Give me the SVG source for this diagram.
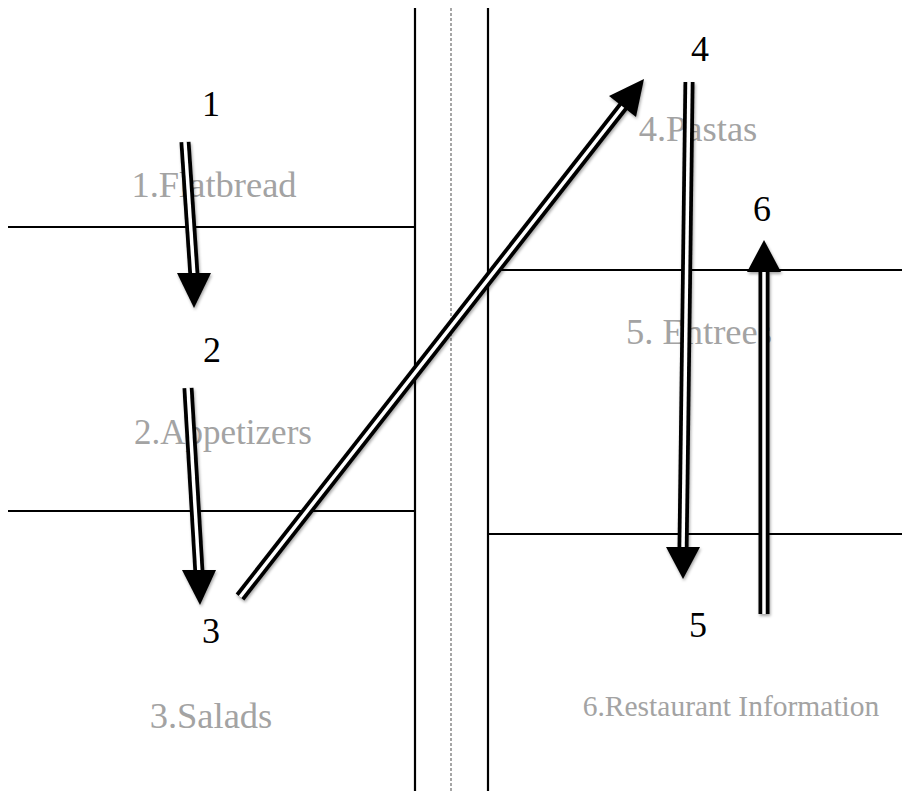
<svg xmlns="http://www.w3.org/2000/svg" width="902" height="791" viewBox="0 0 902 791">
  <defs>
    <style>
      .rule { stroke: #000; stroke-width: 2.2; fill: none; }
      .dash { stroke: #777; stroke-width: 1.3; stroke-dasharray: 3 2; fill: none; }
      .num { font-family: "Liberation Serif", "Times New Roman", serif; font-size: 36px; fill: #000; text-anchor: middle; }
      .lbl { font-family: "Liberation Serif", "Times New Roman", serif; font-size: 36.5px; fill: #a3a3a3; }
      .outer { stroke: #000; stroke-width: 11; fill: none; stroke-linecap: butt; }
      .inner { stroke: #fff; stroke-width: 3.5; fill: none; stroke-linecap: butt; }
      .head { fill: #000; }
    </style>
    <filter id="sh" x="-20%" y="-20%" width="140%" height="140%">
      <feDropShadow dx="1" dy="2" stdDeviation="1.5" flood-color="#000" flood-opacity="0.35"/>
    </filter>
  </defs>
  <rect width="902" height="791" fill="#fff"/>

  <g id="grid">
    <line class="rule" x1="415" y1="8" x2="415" y2="791"/>
    <line class="rule" x1="488" y1="8" x2="488" y2="791"/>
    <line class="dash" x1="451" y1="8" x2="451" y2="791"/>
    <line class="rule" x1="8" y1="227" x2="415" y2="227"/>
    <line class="rule" x1="8" y1="511" x2="415" y2="511"/>
    <line class="rule" x1="488" y1="270" x2="902" y2="270"/>
    <line class="rule" x1="488" y1="534" x2="902" y2="534"/>
  </g>

  <g id="flatbread">
    <text class="lbl" x="214" y="197" text-anchor="middle">1.Flatbread</text>
    <text class="num" x="211" y="116">1</text>
  </g>
  <g id="appetizers">
    <text class="lbl" x="223" y="444" text-anchor="middle" style="font-size:35px">2.Appetizers</text>
    <text class="num" x="212" y="362">2</text>
  </g>
  <g id="salads">
    <text class="lbl" x="211" y="728" text-anchor="middle">3.Salads</text>
    <text class="num" x="211" y="643">3</text>
  </g>
  <g id="pastas">
    <text class="lbl" x="698" y="141" text-anchor="middle">4.Pastas</text>
    <text class="num" x="700" y="61">4</text>
  </g>
  <g id="entrees">
    <text class="lbl" x="699" y="344" text-anchor="middle">5. Entrees</text>
    <text class="num" x="698" y="637">5</text>
  </g>
  <g id="restaurant-information">
    <text class="lbl" x="731" y="716" text-anchor="middle" style="font-size:29.5px">6.Restaurant Information</text>
    <text class="num" x="762" y="221">6</text>
  </g>

  <g id="connectors" filter="url(#sh)">
    <g id="a1">
      <line class="outer" x1="185" y1="142" x2="194" y2="276"/>
      <line class="inner" x1="185" y1="142" x2="194" y2="276"/>
      <polygon class="head" points="177,273 211,273 194,308"/>
    </g>
    <g id="a2">
      <line class="outer" x1="188" y1="388" x2="199" y2="573"/>
      <line class="inner" x1="188" y1="388" x2="199" y2="573"/>
      <polygon class="head" points="182,570 216,570 200,605"/>
    </g>
    <g id="a3">
      <line class="outer" x1="240" y1="597" x2="625" y2="104"/>
      <line class="inner" x1="240" y1="597" x2="625" y2="104"/>
      <polygon class="head" points="609,96 636,117 644,79"/>
    </g>
    <g id="a4">
      <line class="outer" x1="689" y1="82" x2="683" y2="550"/>
      <line class="inner" x1="689" y1="82" x2="683" y2="550"/>
      <polygon class="head" points="666,547 700,547 683,579"/>
    </g>
    <g id="a5">
      <line class="outer" x1="764" y1="614" x2="764" y2="269"/>
      <line class="inner" x1="764" y1="614" x2="764" y2="269"/>
      <polygon class="head" points="747,272 781,272 764,240"/>
    </g>
  </g>
</svg>
